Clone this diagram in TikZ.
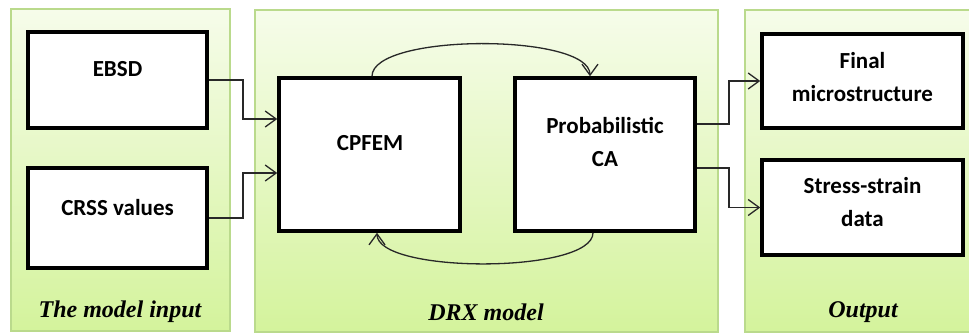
\documentclass[tikz,border=0pt]{standalone}
\usepackage{fontspec}
\setmainfont{Carlito}
\newfontfamily\capfont{Liberation Serif}
\usetikzlibrary{arrows.meta}
\definecolor{pbord}{RGB}{186,218,140}
\definecolor{ptop}{RGB}{246,252,234}
\definecolor{pbot}{RGB}{212,243,156}
\definecolor{arrc}{RGB}{40,40,40}
\tikzset{
  panel/.style={draw=pbord, line width=1.5pt, top color=ptop, bottom color=pbot},
  box/.style={draw=black, line width=3.5pt, fill=white, inner sep=0pt},
  txt/.style={font=\fontsize{23}{33}\selectfont\bfseries, align=center, inner sep=0pt},
  captxt/.style={font=\capfont\fontsize{24}{28}\selectfont\bfseries\itshape, inner sep=0pt},
  arr/.style={draw=arrc, line width=1.3pt, -{Straight Barb[length=11pt,width=16pt,line width=1.3pt]}}
}
\begin{document}
\begin{tikzpicture}[x=1pt,y=-1pt]
\useasboundingbox (0,0) rectangle (969,333);
\fill[white] (0,0) rectangle (969,333);
% panels
\draw[panel] (11,9) rectangle (230,331);
\draw[panel] (255,10) rectangle (718,332);
\draw[panel] (745,10) rectangle (980,332);
% boxes
\node[box, minimum width=179pt, minimum height=96pt] (ebsd) at (117.5,80) {};
\node[box, minimum width=179pt, minimum height=100pt] (crss) at (117.5,218) {};
\node[box, minimum width=181pt, minimum height=153pt] (cpfem) at (369.5,154.5) {};
\node[box, minimum width=180pt, minimum height=153pt] (prob) at (605,154.5) {};
\node[box, minimum width=201pt, minimum height=94pt] (final) at (862.5,81) {};
\node[box, minimum width=201pt, minimum height=95pt] (stress) at (862.5,207.5) {};
% texts
\node[txt] (ebsdt) at (117.5,69) {EBSD};
\node[txt] (crsst) at (117.5,208) {CRSS values};
\node[txt] (cpfemt) at (370,143) {CPFEM};
\node[txt] (probt) at (605,142) {Probabilistic\\CA};
\node[txt] (finalt) at (862.5,77) {Final\\microstructure};
\node[txt] (stresst) at (862.5,202) {Stress-strain\\data};
% captions
\node[captxt] (c1) at (120,312) {The model input};
\node[captxt] (c2) at (486,312) {DRX model};
\node[captxt] (c3) at (863,312) {Output};
% connectors
\draw[arr] (ebsd.east) -- (243,80) -- (243,119) -- (cpfem.west |- 243,119);
\draw[arr] (crss.east) -- (243,218) -- (243,173) -- (cpfem.west |- 243,173);
\draw[arr] (cpfem.north -| 372,0) .. controls (372,33) and (590,33) .. (prob.north -| 590,0);
\draw[arr] (prob.south -| 593,0) .. controls (593,274) and (377,274) .. (cpfem.south -| 377,0);
\draw[arr] (prob.east |- 0,124) -- (729,124) -- (729,81) -- (final.west);
\draw[arr] (prob.east |- 0,168) -- (729,168) -- (729,207.5) -- (stress.west);
\end{tikzpicture}
\end{document}
